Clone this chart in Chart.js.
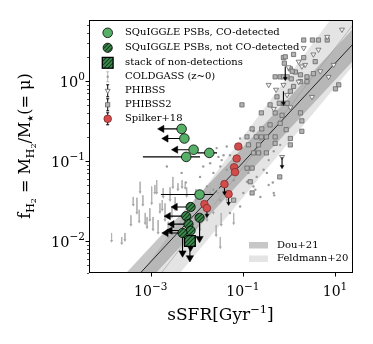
<!DOCTYPE html>
<html><head><meta charset="utf-8">
<script src="https://cdn.jsdelivr.net/npm/chart.js@4/dist/chart.umd.min.js"></script>
<style>html,body{margin:0;padding:0;background:#fff}#wrap{width:373px;height:344px}</style>
</head><body><div id="wrap"><canvas id="c" width="373" height="344"></canvas></div>
<script>
// ---------------- DATA (log10 sSFR [Gyr^-1], log10 fH2) ----------------
const xRangeLog = [-4.34, 1.39];
const yRangeLog = [-2.40, 0.76];
const xTickLogs = [-3, -1, 1];
const xTickExps = ['\u22123', '\u22121', '1'];
const yTickLogs = [-2, -1, 0];
const yTickExps = ['\u22122', '\u22121', '0'];

// SQuIGGLE PSBs, CO-detected
const greenDetX = [-2.33, -2.27, -2.07, -1.73, -2.23, -1.94];
const greenDetY = [-0.60, -0.72, -0.86, -0.90, -0.95, -1.42];
const greenDetArrowEnd = [-2.76, -2.67, -2.46, null, null, null];
const greenDetErrLo = [null, null, null, -1.99, -3.17, -2.78];
const greenDetErrHi = [null, null, null, -1.56, -1.93, -1.64];

// SQuIGGLE PSBs, not CO-detected (upper limits)
const hatchX = [-2.135, -2.23, -1.94, -2.18, -2.135, -2.31];
const hatchY = [-1.575, -1.69, -1.71, -1.79, -1.87, -1.90];
const hatchArrowEnd = [-2.47, -2.62, null, -2.54, -2.58, -2.67];
const hatchLimitEnd = [null, null, -1.97, null, -2.08, -2.15];

// stack of non-detections
const stackX = [-2.15];
const stackY = [-2.00];
const stackLimitEnd = [-2.21];

// Spilker+18
const spilkerX = [-1.10, -1.135, -1.19, -1.17, -1.40, -1.31, -1.835, -1.78];
const spilkerY = [-0.82, -0.97, -1.08, -1.14, -1.29, -1.415, -1.54, -1.59];
const spilkerLimitEnd = [null, null, null, null, -1.40, -1.53, null, -1.68];

// PHIBSS
const phibssX = [1.15, 0.83, 0.32, 0.64, 0.21, 0.35, -0.01, -0.44, -0.12, 0.21, 0.86, 0.97, -0.04, -0.33, -0.28, 0.50, 0.68, 0.28, -0.15, 0.53, 0.03];
const phibssY = [0.64, 0.55, 0.41, 0.39, 0.24, 0.20, 0.17, -0.05, -0.05, -0.01, 0.05, 0.20, -0.175, -0.35, -0.11, -0.20, 0.12, 0.18, -0.95, 0.33, -0.33];
const phibssLimX = [-0.08, -0.12, -0.15];
const phibssLimTop = [0.18, -0.13, -0.95];
const phibssLimBot = [0.03, -0.28, -1.07];

// PHIBSS2
const phibss2X = [0.32, 0.51, 0.64, 0.83, -0.12, 0.32, 0.57, 0.03, 0.14, 0.25, 0.39, 0.53, -0.30, -0.19, -0.12, -0.04, 0.05, 0.10, 0.25, 0.39, 1.08, -0.26, -0.21, -0.12, -0.04, 0.03, -1.02, -0.41, -0.60, -0.30, -0.15, 0.25, -0.19, -0.80, -0.59, -0.06, 0.28, 0.28, -0.91, -0.71, -0.60, -0.49, -0.30, 0.03, -0.88, -0.66, -0.30, 0.03, -0.77, -0.66, -0.49, -0.91, -0.80, -0.84, -0.20, -1.20, -0.80, 1.01, -0.41, -0.08, -0.10, 0.10, 0.07];
const phibss2Y = [0.51, 0.51, 0.51, 0.51, 0.29, 0.29, 0.24, 0.15, 0.11, 0.075, 0.05, 0.09, 0.05, 0.05, 0.05, 0.05, 0.025, -0.07, -0.01, -0.01, -0.05, -0.20, -0.28, -0.28, -0.28, -0.13, -0.30, -0.30, -0.40, -0.40, -0.43, -0.40, -0.53, -0.60, -0.60, -0.61, -0.50, -0.63, -0.70, -0.70, -0.70, -0.70, -0.70, -0.72, -0.80, -0.80, -0.78, -0.80, -0.90, -0.90, -0.90, -1.09, -1.09, -1.26, -1.20, -1.49, -1.40, -0.10, -0.55, 0.30, 0.22, 0.33, 0.12];

// COLDGASS detections
const coldX = [-1.35, -1.28, -1.53, -1.46, -0.77, -0.62, -0.55, -0.48, -0.35, -0.33, -0.77, -0.62, -0.91, -0.99, -1.06, -1.28, -1.49, -1.64, -1.78, -1.20, -1.13, -0.88, -0.70, -1.64, -1.49, -1.35, -1.93, -1.86, -1.71, -1.57, -1.02, -0.77, -0.62, -1.06, -0.33, -0.19, -0.44, -2.65, -2.33, -2.24, -1.42, -0.73, -0.44, -0.32];
const coldY = [-0.82, -0.93, -0.95, -0.99, -1.09, -0.90, -1.11, -1.15, -1.27, -1.40, -1.32, -1.45, -1.26, -1.40, -1.57, -1.65, -1.49, -1.36, -1.32, -1.24, -1.09, -1.15, -1.20, -1.15, -1.07, -1.11, -1.20, -1.07, -1.03, -0.84, -0.84, -0.63, -0.74, -0.72, -0.88, -0.80, -0.99, -1.07, -1.15, -1.27, -0.93, -1.36, -1.30, -1.43];
// COLDGASS upper limits
const coldLimX = [-3.85, -3.63, -3.56, -3.30, -3.25, -3.23, -3.17, -3.12, -3.08, -3.02, -2.95, -2.91, -2.87, -2.84, -2.80, -2.75, -2.73, -2.69, -2.62, -2.58, -2.54, -2.52, -2.47, -2.41, -2.32, -2.25, -2.22, -2.02, -1.93, -1.78, -1.71, -1.64, -1.54, -1.35, -1.47, -1.58, -3.38, -3.43, -1.20, -1.49, -2.98];
const coldLimTop = [-1.90, -1.95, -1.90, -1.46, -1.61, -1.26, -1.43, -1.65, -1.70, -1.59, -1.70, -1.30, -1.24, -1.74, -1.53, -1.49, -1.34, -1.53, -1.76, -1.33, -1.58, -1.20, -1.45, -1.28, -1.24, -1.28, -1.33, -1.35, -1.74, -1.61, -1.28, -1.49, -1.28, -1.33, -1.65, -1.80, -1.45, -1.68, -1.65, -1.95, -1.32];
const coldLimBot = [-2.00, -2.03, -1.99, -1.65, -1.76, -1.39, -1.55, -1.78, -1.83, -1.74, -1.86, -1.40, -1.40, -1.90, -1.64, -1.61, -1.45, -1.74, -1.95, -1.49, -1.70, -1.33, -1.61, -1.36, -1.33, -1.34, -1.44, -1.49, -1.86, -1.74, -1.40, -1.65, -1.40, -1.49, -1.80, -1.93, -1.55, -1.80, -1.78, -2.08, -1.53];

// Relations (line end points, log10)
const relX = [-4.34, 1.39];
const douUpperY = [-2.90, 0.65];
const douLowerY = [-3.30, 0.25];
const douCenterY = [-3.09, 0.46];
const feldUpperY = [-3.27, 1.14];
const feldLowerY = [-3.76, 0.19];
const feldLineY = [-3.57, 0.70];

// ---------------- helpers ----------------
const FONT = '"DejaVu Serif", serif';
const GREEN = '#57b068', RED = '#d24c4c';
const P = (lx, ly) => ({x: Math.pow(10, lx), y: Math.pow(10, ly)});
const pts = (xs, ys) => xs.map((x, i) => P(x, ys[i]));
const GAP = {x: null, y: null};

function makeHatch() {
  const c = document.createElement('canvas'); c.width = 4; c.height = 4;
  const g = c.getContext('2d');
  g.fillStyle = '#3e8e4f'; g.fillRect(0, 0, 4, 4);
  g.strokeStyle = '#143a1e'; g.lineWidth = 1.1;
  g.beginPath(); g.moveTo(-1, 5); g.lineTo(5, -1); g.moveTo(-1, 1); g.lineTo(1, -1); g.moveTo(3, 5); g.lineTo(5, 3); g.stroke();
  return document.getElementById('c').getContext('2d').createPattern(c, 'repeat');
}
const hatch = makeHatch();

const blackSegs = [], headPts = [], headRot = [], headRad = [];
function seg(x1, y1, x2, y2, rot, rad) {
  blackSegs.push(P(x1, y1), P(x2, y2), GAP);
  if (rot !== undefined) { headPts.push(P(x2, y2)); headRot.push(rot); headRad.push(rad); }
}
greenDetX.forEach((x, i) => {
  if (greenDetArrowEnd[i] !== null) seg(x, greenDetY[i], greenDetArrowEnd[i], greenDetY[i], -90, 4.2);
  if (greenDetErrLo[i] !== null) seg(greenDetErrLo[i], greenDetY[i], greenDetErrHi[i], greenDetY[i]);
});
hatchX.forEach((x, i) => {
  if (hatchArrowEnd[i] !== null) seg(x, hatchY[i], hatchArrowEnd[i], hatchY[i], -90, 4.2);
  if (hatchLimitEnd[i] !== null) seg(x, hatchY[i], x, hatchLimitEnd[i], 180, 4.2);
});
stackX.forEach((x, i) => seg(x, stackY[i], x, stackLimitEnd[i], 180, 4.2));
spilkerX.forEach((x, i) => { if (spilkerLimitEnd[i] !== null) seg(x, spilkerY[i], x, spilkerLimitEnd[i], 180, 2.2); });
phibssLimX.forEach((x, i) => seg(x, phibssLimTop[i], x, phibssLimBot[i], 180, 2.2));

const graySegs = [], grayHeads = [];
coldLimX.forEach((x, i) => { graySegs.push(P(x, coldLimTop[i]), P(x, coldLimBot[i]), GAP); grayHeads.push(P(x, coldLimBot[i])); });

const line2 = ys => [P(relX[0], ys[0]), P(relX[1], ys[1])];
const bandBase = {type: 'scatter', showLine: true, pointRadius: 0, borderWidth: 0, borderColor: 'rgba(0,0,0,0)', tension: 0, clip: 0};

const datasets = [
  {data: pts(greenDetX, greenDetY), pointRadius: 4.8, pointBackgroundColor: GREEN, pointBorderColor: '#000', pointBorderWidth: 0.8, order: 1},
  {data: pts(hatchX, hatchY), pointRadius: 4.6, pointBackgroundColor: hatch, pointBorderColor: '#000', pointBorderWidth: 0.8, order: 2},
  {data: pts(stackX, stackY), pointStyle: 'rect', pointRadius: 7.6, pointBackgroundColor: hatch, pointBorderColor: '#000', pointBorderWidth: 1.3, order: 3},
  {data: headPts, pointStyle: 'triangle', pointRotation: headRot, pointRadius: headRad, pointBackgroundColor: '#000', pointBorderColor: '#000', pointBorderWidth: 0.5, order: 4},
  {data: pts(spilkerX, spilkerY), pointRadius: 3.8, pointBackgroundColor: RED, pointBorderColor: '#7c2222', pointBorderWidth: 0.7, order: 6},
  {data: blackSegs, showLine: true, spanGaps: false, borderColor: '#000', borderWidth: 1.1, pointRadius: 0, clip: 0, order: 7},
  {data: pts(phibssX, phibssY), pointStyle: 'triangle', pointRotation: 180, pointRadius: 2.9, pointBackgroundColor: '#f4f4f4', pointBorderColor: '#666', pointBorderWidth: 0.8, order: 10},
  {data: pts(phibss2X, phibss2Y), pointStyle: 'rect', pointRadius: 3.0, pointBackgroundColor: '#b3b3b3', pointBorderColor: '#666', pointBorderWidth: 0.8, order: 11},
  {data: pts(coldX, coldY), pointRadius: 1.2, pointBackgroundColor: '#9c9c9c', pointBorderWidth: 0, order: 12},
  {data: grayHeads, pointStyle: 'triangle', pointRotation: 180, pointRadius: 1.8, pointBackgroundColor: '#a8a8a8', pointBorderWidth: 0, order: 12},
  {data: graySegs, showLine: true, spanGaps: false, borderColor: '#b4b4b4', borderWidth: 1, pointRadius: 0, clip: 0, order: 13},
  Object.assign({}, bandBase, {data: line2(douCenterY), borderColor: '#000', borderWidth: 0.8, order: 20}),
  Object.assign({}, bandBase, {data: line2(feldLineY), borderColor: '#9a9a9a', borderWidth: 0.6, order: 21}),
  Object.assign({}, bandBase, {data: line2(douUpperY), fill: '+1', backgroundColor: 'rgba(115,115,115,0.40)', order: 30}),
  Object.assign({}, bandBase, {data: line2(douLowerY), order: 30}),
  Object.assign({}, bandBase, {data: line2(feldUpperY), fill: '+1', backgroundColor: 'rgba(150,150,150,0.26)', order: 40}),
  Object.assign({}, bandBase, {data: line2(feldLowerY), order: 40})
];

// ---------------- drawing of axes text / legend ----------------
function rich(ctx, pieces, x, y, align) {
  let w = 0;
  pieces.forEach(p => { ctx.font = (p.st || '') + p.s + 'px ' + FONT; w += ctx.measureText(p.t).width; });
  let cx = align === 'right' ? x - w : (align === 'left' ? x : x - w / 2);
  pieces.forEach(p => { ctx.font = (p.st || '') + p.s + 'px ' + FONT; ctx.fillText(p.t, cx, y + (p.dy || 0)); cx += ctx.measureText(p.t).width; });
  return w;
}

const LS = 10; // legend font size
const axesPlugin = {
  id: 'axesDecor',
  afterDatasetsDraw(chart) {
    const ctx = chart.ctx;
    ctx.save();
    const mx = 107.7, tx = 125, rows = [32.8, 47.8, 62.8, 76.8, 90.8, 104.8, 118.8];
    ctx.lineWidth = 0.8;
    ctx.beginPath(); ctx.arc(mx, rows[0], 4.8, 0, 2 * Math.PI); ctx.fillStyle = GREEN; ctx.fill(); ctx.strokeStyle = '#000'; ctx.stroke();
    ctx.beginPath(); ctx.arc(mx, rows[1], 4.6, 0, 2 * Math.PI); ctx.fillStyle = hatch; ctx.fill(); ctx.stroke();
    ctx.fillStyle = hatch; ctx.fillRect(mx - 5.4, rows[2] - 5.4, 10.8, 10.8); ctx.lineWidth = 1.3; ctx.strokeRect(mx - 5.4, rows[2] - 5.4, 10.8, 10.8);
    ctx.lineWidth = 0.9; ctx.strokeStyle = '#b4b4b4';
    ctx.beginPath(); ctx.moveTo(mx, rows[3] - 5); ctx.lineTo(mx, rows[3] + 5); ctx.moveTo(mx - 1.5, rows[3] - 5); ctx.lineTo(mx + 1.5, rows[3] - 5); ctx.moveTo(mx - 1.5, rows[3] + 5); ctx.lineTo(mx + 1.5, rows[3] + 5); ctx.stroke();
    ctx.fillStyle = '#9c9c9c'; ctx.beginPath(); ctx.arc(mx, rows[3], 1.2, 0, 2 * Math.PI); ctx.fill();
    ctx.strokeStyle = '#000'; ctx.lineWidth = 1;
    [4, 5, 6].forEach(k => { ctx.beginPath(); ctx.moveTo(mx, rows[k] - 6); ctx.lineTo(mx, rows[k] + 6); ctx.moveTo(mx - 1.5, rows[k] - 6); ctx.lineTo(mx + 1.5, rows[k] - 6); ctx.moveTo(mx - 1.5, rows[k] + 6); ctx.lineTo(mx + 1.5, rows[k] + 6); ctx.stroke(); });
    ctx.lineWidth = 0.8; ctx.strokeStyle = '#666';
    ctx.beginPath(); ctx.moveTo(mx - 2.5, rows[4] - 1.5); ctx.lineTo(mx + 2.5, rows[4] - 1.5); ctx.lineTo(mx, rows[4] + 2.8); ctx.closePath(); ctx.fillStyle = '#f4f4f4'; ctx.fill(); ctx.stroke();
    ctx.fillStyle = '#b3b3b3'; ctx.fillRect(mx - 2.1, rows[5] - 2.1, 4.2, 4.2); ctx.strokeRect(mx - 2.1, rows[5] - 2.1, 4.2, 4.2);
    ctx.beginPath(); ctx.arc(mx, rows[6], 3.8, 0, 2 * Math.PI); ctx.fillStyle = RED; ctx.fill(); ctx.strokeStyle = '#7c2222'; ctx.stroke();
    ctx.fillStyle = '#000'; ctx.textBaseline = 'middle';
    const sq = rest => [{t: 'SQuIGG', s: LS}, {t: 'L', s: LS, st: 'italic '}, {t: 'E' + rest, s: LS}];
    rich(ctx, sq(' PSBs, CO-detected'), tx, rows[0], 'left');
    rich(ctx, sq(' PSBs, not CO-detected'), tx, rows[1], 'left');
    ['stack of non-detections', 'COLDGASS (z~0)', 'PHIBSS', 'PHIBSS2', 'Spilker+18'].forEach((t, k) => rich(ctx, [{t: t, s: LS}], tx, rows[k + 2], 'left'));
    ctx.fillStyle = 'rgba(115,115,115,0.40)'; ctx.fillRect(249, 242, 19, 6.5);
    ctx.fillStyle = 'rgba(150,150,150,0.26)'; ctx.fillRect(249, 255.5, 19, 6.5);
    ctx.fillStyle = '#000';
    rich(ctx, [{t: 'Dou+21', s: LS}], 277, 245.3, 'left');
    rich(ctx, [{t: 'Feldmann+20', s: LS}], 277, 258.8, 'left');
    ctx.restore();
  },
  afterDraw(chart) {
    const ctx = chart.ctx, a = chart.chartArea, xs = chart.scales.x, ys = chart.scales.y;
    ctx.save();
    ctx.strokeStyle = '#000'; ctx.lineWidth = 1;
    ctx.strokeRect(Math.round(a.left) + 0.5, Math.round(a.top) + 0.5, Math.round(a.right - a.left) - 1, Math.round(a.bottom - a.top) - 1);
    ctx.beginPath();
    xTickLogs.forEach(l => { const px = Math.round(xs.getPixelForValue(Math.pow(10, l))) + 0.5; ctx.moveTo(px, a.bottom); ctx.lineTo(px, a.bottom + 3.5); });
    yTickLogs.forEach(l => { const py = Math.round(ys.getPixelForValue(Math.pow(10, l))) + 0.5; ctx.moveTo(a.left, py); ctx.lineTo(a.left - 3.5, py); });
    ctx.stroke();
    ctx.lineWidth = 0.7; ctx.beginPath();
    for (let d = -3; d <= 0; d++) for (let m = 2; m <= 9; m++) {
      const l = d + Math.log10(m);
      if (l < yRangeLog[0] || l > yRangeLog[1]) continue;
      const py = Math.round(ys.getPixelForValue(Math.pow(10, l))) + 0.5; ctx.moveTo(a.left, py); ctx.lineTo(a.left - 2, py);
    }
    ctx.stroke();
    ctx.fillStyle = '#000'; ctx.textBaseline = 'alphabetic';
    xTickLogs.forEach((l, i) => { const px = xs.getPixelForValue(Math.pow(10, l)); rich(ctx, [{t: '10', s: 14}, {t: xTickExps[i], s: 10.5, dy: -6.5}], px, 296, 'center'); });
    yTickLogs.forEach((l, i) => { const py = ys.getPixelForValue(Math.pow(10, l)); rich(ctx, [{t: '10', s: 14.5}, {t: yTickExps[i], s: 10.5, dy: -6.5}], 85, py + 6, 'right'); });
    rich(ctx, [{t: 'sSFR[Gyr', s: 17}, {t: '\u22121', s: 11.5, dy: -7}, {t: ']', s: 17}], 220.5, 320, 'center');
    ctx.translate(30, 146); ctx.rotate(-Math.PI / 2);
    rich(ctx, [{t: 'f', s: 16}, {t: 'H', s: 11, dy: 3.5}, {t: '2', s: 8, dy: 6}, {t: ' = M', s: 16}, {t: 'H', s: 11, dy: 3.5}, {t: '2', s: 8, dy: 6}, {t: '/M', s: 16}, {t: '\u2605', s: 8, dy: 3}, {t: '(= \u03bc)', s: 16}], 0, 0, 'center');
    ctx.restore();
  }
};

new Chart(document.getElementById('c'), {
  type: 'scatter',
  data: {datasets: datasets},
  options: {
    responsive: false, animation: false, devicePixelRatio: 1, events: [],
    layout: {padding: {left: 89, right: 20, top: 20, bottom: 71}},
    plugins: {legend: {display: false}, tooltip: {enabled: false}},
    scales: {
      x: {type: 'logarithmic', display: false, min: Math.pow(10, xRangeLog[0]), max: Math.pow(10, xRangeLog[1])},
      y: {type: 'logarithmic', display: false, min: Math.pow(10, yRangeLog[0]), max: Math.pow(10, yRangeLog[1])}
    }
  },
  plugins: [axesPlugin]
});
</script></body></html>
